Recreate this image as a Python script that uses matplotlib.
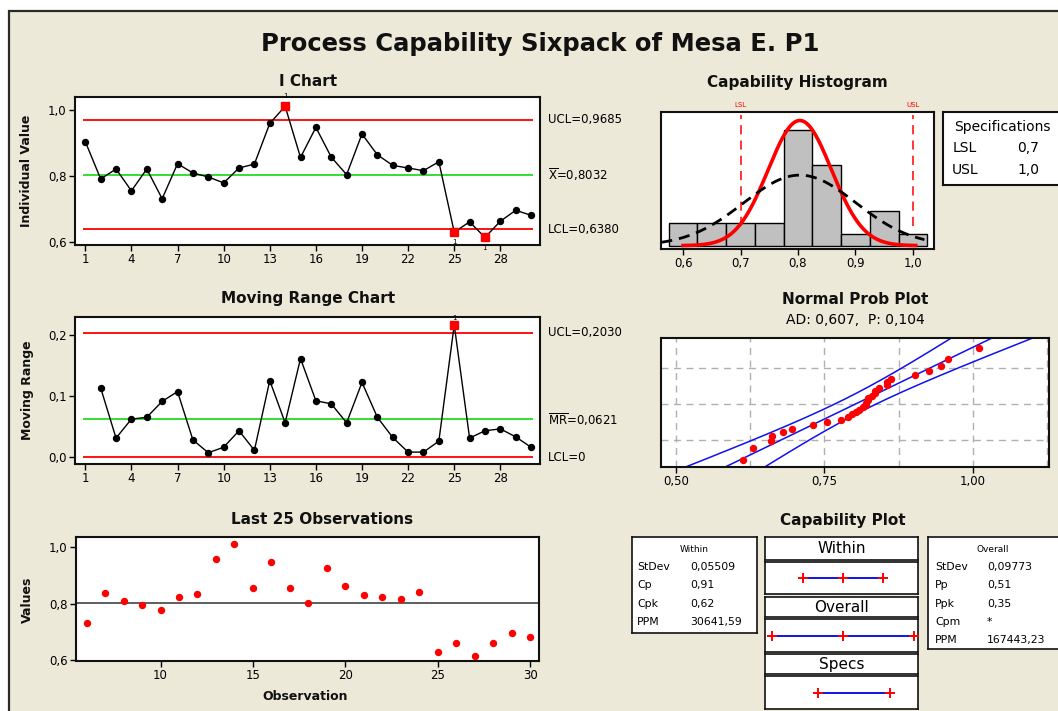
import numpy as np
import matplotlib
matplotlib.use('Agg')
import matplotlib.pyplot as plt
from matplotlib.patches import Rectangle
from statistics import NormalDist

plt.rcParams['font.family'] = ['DejaVu Sans']
plt.rcParams['mathtext.default'] = 'regular'

W, H = 1058, 711
BG = '#ECE9D8'

# ---------------- data ----------------
obs = list(range(1, 31))
values = [0.903, 0.790, 0.820, 0.754, 0.820, 0.730, 0.836, 0.808, 0.796, 0.778,
          0.823, 0.835, 0.958, 1.010, 0.855, 0.946, 0.856, 0.803, 0.926, 0.863,
          0.831, 0.823, 0.815, 0.842, 0.629, 0.660, 0.613, 0.662, 0.695, 0.680]
mr_obs = list(range(2, 31))
mr_values = [0.113, 0.031, 0.062, 0.065, 0.091, 0.107, 0.028, 0.007, 0.016, 0.043,
             0.011, 0.125, 0.056, 0.161, 0.092, 0.087, 0.056, 0.122, 0.065, 0.032,
             0.008, 0.008, 0.026, 0.216, 0.031, 0.043, 0.046, 0.033, 0.016]
i_ooc = [14, 25, 27]
mr_ooc = [25]

xbar, ucl, lcl = 0.8032, 0.9685, 0.6380
mrbar, mr_ucl, mr_lcl = 0.0621, 0.2030, 0.0
lsl, usl = 0.7, 1.0
sd_within, sd_overall = 0.05509, 0.09773

hist_centers = [0.60, 0.65, 0.70, 0.75, 0.80, 0.85, 0.90, 0.95, 1.00]
hist_counts = [2, 2, 2, 2, 10, 7, 1, 3, 1]
bin_width = 0.05

ad_text = "AD: 0,607,  P: 0,104"
within_rows = [("StDev", "0,05509"), ("Cp", "0,91"), ("Cpk", "0,62"), ("PPM", "30641,59")]
overall_rows = [("StDev", "0,09773"), ("Pp", "0,51"), ("Ppk", "0,35"), ("Cpm", "*"), ("PPM", "167443,23")]
spec_rows = [("LSL", "0,7"), ("USL", "1,0")]

# ---------------- figure ----------------
fig = plt.figure(figsize=(W / 100, H / 100), dpi=100, facecolor='white')
fig.patches.append(Rectangle((9 / W, -0.2), 1.3, 1.2 - 11 / H, transform=fig.transFigure,
                             facecolor=BG, edgecolor='#2a2a2a', lw=1.6, zorder=-10))


def add_ax(l, t, r, b):
    ax = fig.add_axes([l / W, 1 - b / H, (r - l) / W, (b - t) / H])
    ax.set_facecolor('white')
    for s in ax.spines.values():
        s.set_linewidth(1.5)
        s.set_color('#111111')
    return ax


def ftext(x, y, s, **kw):
    kw.setdefault('ha', 'center')
    kw.setdefault('va', 'center')
    return fig.text(x / W, 1 - y / H, s, **kw)


def comma(v, fmt):
    return (fmt % v).replace('.', ',')


def style_ticks(ax):
    ax.tick_params(direction='out', length=4, width=1, labelsize=8.5, pad=2)


def npdf(x, m, s):
    return np.exp(-0.5 * ((x - m) / s) ** 2) / (s * np.sqrt(2 * np.pi))


TITLE_KW = dict(fontsize=11, fontweight='bold', color='#111111')
YLAB_KW = dict(fontsize=9, fontweight='bold', rotation=90, color='#111111')
LIM_FS = 8.5

ftext(540, 44, "Process Capability Sixpack of Mesa E. P1", fontsize=17.5, fontweight='bold', color='#111111')

# ---------------- I chart ----------------
ax1 = add_ax(75, 97, 540, 245)
ax1.hlines([ucl, lcl], 0.85, 30.1, color='red', lw=1.3, zorder=1)
ax1.hlines([xbar], 0.85, 30.1, color='#22dd22', lw=1.3, zorder=1)
ax1.plot(obs, values, color='black', lw=1, marker='o', ms=4.3, zorder=3)
ax1.plot(i_ooc, [values[o - 1] for o in i_ooc], 's', color='red', ms=5.5, zorder=4)
for o in i_ooc:
    v = values[o - 1]
    if v > xbar:
        ax1.text(o, v + 0.022, "1", fontsize=5, ha='center', va='bottom')
    else:
        ax1.text(o, v - 0.022, "1", fontsize=5, ha='center', va='top')
ax1.set_xlim(0.33, 30.58)
ax1.set_ylim(0.59, 1.038)
ax1.set_xticks(list(range(1, 29, 3)))
ax1.set_yticks([0.6, 0.8, 1.0])
ax1.set_yticklabels([comma(v, '%.1f') for v in [0.6, 0.8, 1.0]])
style_ticks(ax1)
ftext(308, 81, "I Chart", **TITLE_KW)
ftext(27, 171, "Individual Value", **YLAB_KW)
tr1 = ax1.get_yaxis_transform()
ax1.text(1.018, ucl, "UCL=" + comma(ucl, '%.4f'), transform=tr1, fontsize=LIM_FS, va='center', ha='left')
ax1.text(1.018, xbar, r"$\overline{X}$=" + comma(xbar, '%.4f'), transform=tr1, fontsize=LIM_FS, va='center', ha='left')
ax1.text(1.018, lcl, "LCL=" + comma(lcl, '%.4f'), transform=tr1, fontsize=LIM_FS, va='center', ha='left')

# ---------------- MR chart ----------------
ax2 = add_ax(75, 317, 540, 464)
ax2.hlines([mr_ucl, mr_lcl], 0.85, 30.1, color='red', lw=1.3, zorder=1)
ax2.hlines([mrbar], 0.85, 30.1, color='#22dd22', lw=1.3, zorder=1)
ax2.plot(mr_obs, mr_values, color='black', lw=1, marker='o', ms=4.3, zorder=3)
ax2.plot(mr_ooc, [mr_values[o - 2] for o in mr_ooc], 's', color='red', ms=5.5, zorder=4)
for o in mr_ooc:
    ax2.text(o, mr_values[o - 2] + 0.007, "1", fontsize=5, ha='center', va='bottom')
ax2.set_xlim(0.33, 30.58)
ax2.set_ylim(-0.0114, 0.229)
ax2.set_xticks(list(range(1, 29, 3)))
ax2.set_yticks([0.0, 0.1, 0.2])
ax2.set_yticklabels([comma(v, '%.1f') for v in [0.0, 0.1, 0.2]])
style_ticks(ax2)
ftext(308, 299, "Moving Range Chart", **TITLE_KW)
ftext(27, 390, "Moving Range", **YLAB_KW)
tr2 = ax2.get_yaxis_transform()
ax2.text(1.018, mr_ucl, "UCL=" + comma(mr_ucl, '%.4f'), transform=tr2, fontsize=LIM_FS, va='center', ha='left')
ax2.text(1.018, mrbar, r"$\overline{MR}$=" + comma(mrbar, '%.4f'), transform=tr2, fontsize=LIM_FS, va='center', ha='left')
ax2.text(1.018, mr_lcl, "LCL=0", transform=tr2, fontsize=LIM_FS, va='center', ha='left')

# ---------------- Last 25 observations ----------------
ax3 = add_ax(76, 537, 539, 661)
ax3.axhline(xbar, color='#333333', lw=1.1, zorder=1)
ax3.plot(obs[5:], values[5:], 'o', color='red', ms=4.3, zorder=3)
ax3.set_xlim(5.43, 30.47)
ax3.set_ylim(0.5965, 1.036)
ax3.set_xticks([10, 15, 20, 25, 30])
ax3.set_yticks([0.6, 0.8, 1.0])
ax3.set_yticklabels([comma(v, '%.1f') for v in [0.6, 0.8, 1.0]])
style_ticks(ax3)
ftext(322, 520, "Last 25 Observations", **TITLE_KW)
ftext(27, 600, "Values", **YLAB_KW)
ftext(305, 697, "Observation", fontsize=9, fontweight='bold', color='#111111')

# ---------------- Capability histogram ----------------
ax4 = add_ax(661, 112, 934, 249)
ax4.bar(hist_centers, hist_counts, width=bin_width, color='#c0c0c0', edgecolor='black', lw=1, zorder=1)
xs_w = np.linspace(0.6, 1.005, 300)
ax4.plot(xs_w, len(values) * bin_width * npdf(xs_w, xbar, sd_within), color='red', lw=2.6, zorder=3)
xs_o = np.linspace(0.562, 1.02, 300)
ax4.plot(xs_o, len(values) * bin_width * npdf(xs_o, xbar, sd_overall), color='black', lw=2,
         ls=(0, (4, 2.5)), zorder=4)
ax4.vlines([lsl, usl], 1.7, 11.3, color='red', lw=1.1, linestyles=(0, (6, 4)), zorder=2)
ax4.set_xlim(0.5616, 1.0367)
ax4.set_ylim(-0.29, 11.6)
ax4.set_xticks([0.6, 0.7, 0.8, 0.9, 1.0])
ax4.set_xticklabels([comma(v, '%.1f') for v in [0.6, 0.7, 0.8, 0.9, 1.0]])
ax4.set_yticks([])
style_ticks(ax4)
trx = ax4.get_xaxis_transform()
ax4.text(lsl, 1.03, "LSL", transform=trx, fontsize=5, color='red', ha='center', va='bottom')
ax4.text(usl, 1.03, "USL", transform=trx, fontsize=5, color='red', ha='center', va='bottom')
ftext(797, 82, "Capability Histogram", **TITLE_KW)

ax5 = add_ax(943, 112, 1075, 185)
ax5.set_xticks([]); ax5.set_yticks([])
ftext(1002, 127, "Specifications", fontsize=10)
for k, (lab, val) in enumerate(spec_rows):
    ftext(965, 148 + 22 * k, lab, fontsize=10)
    ftext(1028, 148 + 22 * k, val, fontsize=10)

# ---------------- Normal probability plot ----------------
ax6 = add_ax(661, 338, 1049, 467)
nd = NormalDist()
n = len(values)
sorted_vals = sorted(values)
zpos = [nd.inv_cdf((i + 1 - 0.3) / (n + 0.4)) for i in range(n)]
zz = np.linspace(-2.6, 2.6, 200)
mid = xbar + sd_overall * zz
half = 1.96 * sd_overall * np.sqrt(1 / n + zz ** 2 / (2 * (n - 1)))
for xline in (mid, mid - half, mid + half):
    ax6.plot(xline, zz, color='#1010ee', lw=1.1, zorder=2)
ax6.plot(sorted_vals, zpos, 'o', color='red', ms=4.3, zorder=3)
for gx in [0.5, 0.625, 0.75, 0.875, 1.0, 1.125]:
    ax6.axvline(gx, color='#b0b0b0', lw=1, ls=(0, (5, 4)), zorder=1)
for p in [0.1, 0.5, 0.9]:
    ax6.axhline(nd.inv_cdf(p), color='#b0b0b0', lw=1, ls=(0, (5, 4)), zorder=1)
ax6.set_xlim(0.474, 1.129)
ax6.set_ylim(-2.26, 2.35)
ax6.set_xticks([0.5, 0.75, 1.0])
ax6.set_xticklabels([comma(v, '%.2f') for v in [0.5, 0.75, 1.0]])
ax6.set_yticks([])
style_ticks(ax6)
ftext(855, 299, "Normal Prob Plot", **TITLE_KW)
ftext(855, 320, ad_text, fontsize=10)

# ---------------- Capability plot ----------------
ftext(843, 520, "Capability Plot", **TITLE_KW)

axw = add_ax(632, 537, 757, 633)
axw.set_xticks([]); axw.set_yticks([])
for s in axw.spines.values():
    s.set_linewidth(1.2)
ftext(694, 549, "Within", fontsize=6.5)
for k, (lab, val) in enumerate(within_rows):
    ftext(637, 567 + 18.3 * k, lab, fontsize=7.8, ha='left')
    ftext(690, 567 + 18.3 * k, val, fontsize=7.8, ha='left')

axo = add_ax(928, 537, 1075, 649)
axo.set_xticks([]); axo.set_yticks([])
for s in axo.spines.values():
    s.set_linewidth(1.2)
ftext(993, 549, "Overall", fontsize=6.5)
for k, (lab, val) in enumerate(overall_rows):
    ftext(935, 567 + 18.3 * k, lab, fontsize=7.8, ha='left')
    ftext(987, 567 + 18.3 * k, val, fontsize=7.8, ha='left')

cap_rows = [("Within", [xbar - 3 * sd_within, xbar, xbar + 3 * sd_within], (537, 560), (562, 594)),
            ("Overall", [xbar - 3 * sd_overall, xbar, xbar + 3 * sd_overall], (597, 617), (619, 652)),
            ("Specs", [lsl, usl], (654, 674), (676, 709))]
for lab, pts, (lt, lb), (pt, pb) in cap_rows:
    axl = add_ax(765, lt, 918, lb)
    axl.set_xticks([]); axl.set_yticks([])
    for s in axl.spines.values():
        s.set_linewidth(1.2)
    axl.text(0.5, 0.5, lab, transform=axl.transAxes, fontsize=11, ha='center', va='center')
    axp = add_ax(765, pt, 918, pb)
    axp.set_xticks([]); axp.set_yticks([])
    for s in axp.spines.values():
        s.set_linewidth(1.2)
    axp.plot([pts[0], pts[-1]], [0, 0], color='#1010ee', lw=1.4, zorder=2)
    axp.plot(pts, [0] * len(pts), '+', color='red', ms=7, mew=1.4, zorder=3)
    axp.set_xlim(0.479, 1.115)
    axp.set_ylim(-1, 1)

fig.savefig('out.png', dpi=100, facecolor='white')
